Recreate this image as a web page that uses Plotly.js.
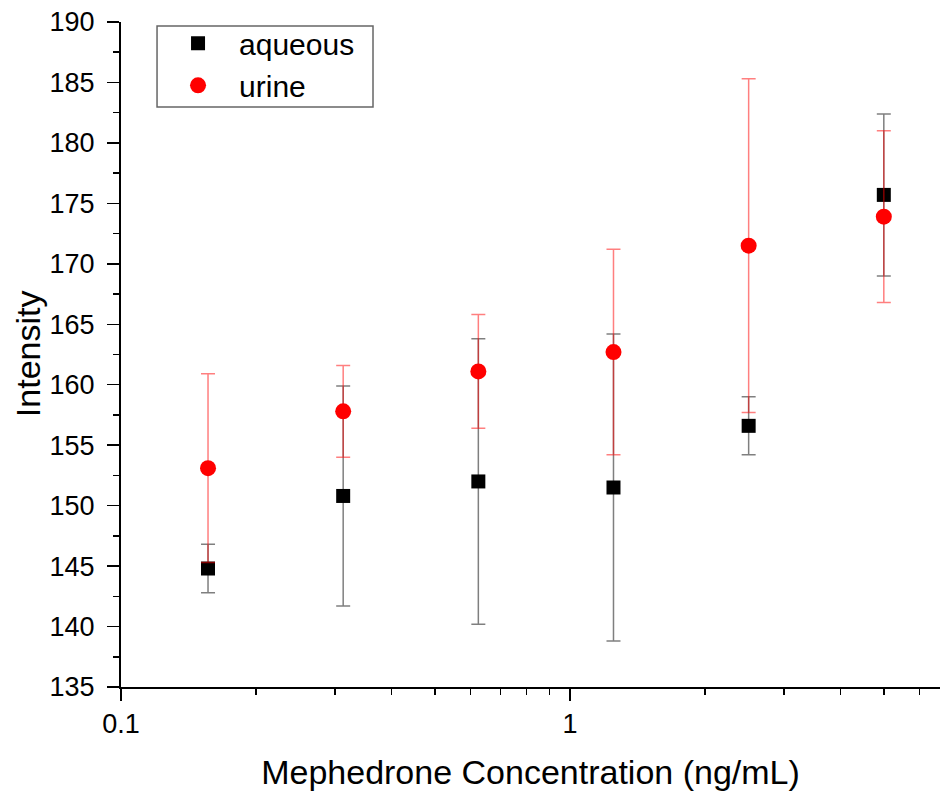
<!DOCTYPE html>
<html>
<head>
<meta charset="utf-8">
<script src="https://cdn.plot.ly/plotly-3.0.1.min.js"></script>
<style>html,body{margin:0;padding:0;background:#fff;}#chart{width:941px;height:791px;}</style>
</head>
<body>
<div id="chart"></div>
<script>
// Concentrations (ng/mL)
const concentrations = [0.15625, 0.3125, 0.625, 1.25, 2.5, 5];
// aqueous series
const aqueousMean = [144.8, 150.8, 152.0, 151.5, 156.6, 175.7];
const aqueousErr  = [2.0, 9.1, 11.8, 12.7, 2.4, 6.7];
// urine series
const urineMean = [153.1, 157.8, 161.1, 162.7, 171.5, 173.9];
const urineErr  = [7.8, 3.8, 4.7, 8.5, 13.8, 7.1];
// stray red error-bar segment on the left axis
const strayX = [0.1, 0.1];
const strayY = [135, 146.3];
// axis ticks
const xTickVals = [0.1, 1];
const xTickText = ['0.1', '1'];
const xMinorVals = [0.2, 0.3, 0.4, 0.5, 0.6, 0.7, 0.8, 0.9, 2, 3, 4, 5, 6];

const font = 'Liberation Sans, Arial, sans-serif';

const traces = [
  {
    x: concentrations, y: aqueousMean, name: 'aqueous', type: 'scatter', mode: 'markers',
    marker: {symbol: 'square', size: 14, color: '#000'},
    error_y: {type: 'data', array: aqueousErr, visible: true, color: 'rgba(0,0,0,0.5)', thickness: 1.5, width: 7}
  },
  {
    x: concentrations, y: urineMean, name: 'urine', type: 'scatter', mode: 'markers',
    marker: {symbol: 'circle', size: 16, color: '#ff0000'},
    error_y: {type: 'data', array: urineErr, visible: true, color: 'rgba(255,0,0,0.5)', thickness: 1.5, width: 7}
  }
];

const layout = {
  width: 941, height: 791,
  margin: {l: 121, r: 1, t: 22, b: 104},
  paper_bgcolor: '#fff', plot_bgcolor: '#fff',
  font: {family: font, color: '#000'},
  showlegend: true,
  legend: {
    x: 0.044, y: 1.007, xanchor: 'left', yanchor: 'top',
    borderwidth: 0, bgcolor: 'rgba(0,0,0,0)',
    font: {size: 30, family: font}, itemsizing: 'trace', itemwidth: 72,
    tracegroupgap: 0
  },
  shapes: [
    {
      type: 'rect', xref: 'paper', yref: 'paper',
      x0: 0.044, x1: 0.3077, y0: 0.872, y1: 0.994,
      line: {color: '#666', width: 1.5}, fillcolor: 'rgba(0,0,0,0)', layer: 'above'
    },
    {
      type: 'line', xref: 'x', yref: 'y',
      x0: Math.log10(strayX[0]), x1: Math.log10(strayX[1]), y0: strayY[0], y1: strayY[1],
      line: {color: 'rgba(255,0,0,0.6)', width: 1.5}, layer: 'above'
    }
  ],
  annotations: [{
    text: 'Intensity', xref: 'paper', yref: 'paper', x: -0.1136, y: 0.502,
    xanchor: 'center', yanchor: 'middle', textangle: -90, showarrow: false,
    font: {size: 34, family: font, color: '#000'}
  }],
  xaxis: {
    type: 'log', range: [-1, Math.log10(6.67)],
    tickmode: 'array', tickvals: xTickVals, ticktext: xTickText,
    ticks: 'outside', ticklen: 12, tickwidth: 1.5, tickcolor: '#000',
    minor: {tickmode: 'array', tickvals: xMinorVals, ticks: 'outside', ticklen: 6, tickwidth: 1.5, tickcolor: '#000', showgrid: false},
    showline: true, linecolor: '#000', linewidth: 2, showgrid: false, zeroline: false,
    layer: 'below traces',
    tickfont: {size: 27, family: font},
    title: {text: 'Mephedrone Concentration (ng/mL)', font: {size: 34, family: font}, standoff: 24}
  },
  yaxis: {
    range: [135, 190], dtick: 5, tick0: 135,
    ticks: 'outside', ticklen: 12, tickwidth: 1.5, tickcolor: '#000',
    minor: {dtick: 2.5, ticks: 'outside', ticklen: 6, tickwidth: 1.5, tickcolor: '#000', showgrid: false},
    showline: true, linecolor: '#000', linewidth: 2, showgrid: false, zeroline: false,
    layer: 'below traces', ticklabelstandoff: 7,
    tickfont: {size: 27, family: font},
    title: {text: ''}
  }
};

Plotly.newPlot('chart', traces, layout, {displayModeBar: false, staticPlot: true});
</script>
</body>
</html>
